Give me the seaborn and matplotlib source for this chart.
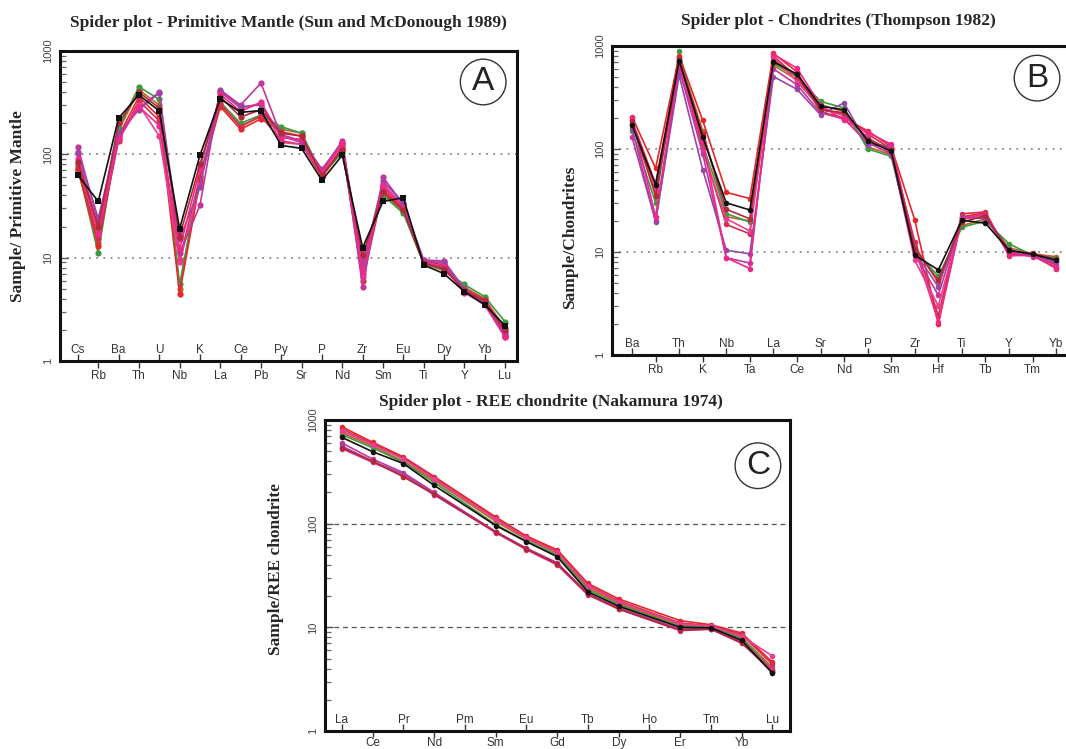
import numpy as np
import pandas as pd
import matplotlib
matplotlib.use("Agg")
import matplotlib.pyplot as plt
from matplotlib.ticker import FixedLocator, NullFormatter, LogLocator
import seaborn as sns

sns.set_style("white")
plt.rcParams["font.family"] = ["Liberation Sans", "DejaVu Sans"]

nan = np.nan

# ---------------------------------------------------------------- samples
SAMPLE_ORDER = ["orange", "green", "red", "crimson", "pink", "magenta",
                "purple", "hotpink", "darkred", "black"]
SAMPLE_COLORS = {
    "black": "#111111", "green": "#3f9a3f", "orange": "#c0622a",
    "red": "#e8262a", "crimson": "#d42d4f", "pink": "#e8408e",
    "magenta": "#c2369c", "purple": "#9a46a8", "hotpink": "#f0288a",
    "darkred": "#b02a3a",
}

# ------------------------------------------- A: primitive mantle normalised
pm_elements = ["Cs", "Rb", "Ba", "Th", "U", "Nb", "K", "La", "Ce", "Pb", "Py",
               "Sr", "P", "Nd", "Zr", "Sm", "Eu", "Ti", "Dy", "Y", "Yb", "Lu"]
pm_black   = [63, 35, 224, 375, 263, 19, 98, 345, 255, 265, 122, 114, 56, 98, 12.5, 35, 38, 8.5, 7.0, 4.7, 3.5, 2.2]
pm_green   = [75, 11, 180, 450, 340, 5.5, 62, 320, 200, 240, 185, 160, 62, 105, 9.0, 40, 27, 8.8, 7.6, 5.5, 4.2, 2.4]
pm_orange  = [70, 14, 170, 420, 300, 5.0, 58, 300, 190, 230, 175, 160, 65, 110, 8.0, 42, 28, 8.7, 7.5, 5.2, 4.0, 2.1]
pm_red     = [72, 13, 150, 360, 230, 4.5, 55, 290, 175, 220, 165, 150, 60, 115, 6.0, 45, 30, 9.0, 8.0, 5.0, 3.9, 1.9]
pm_crimson = [80, 15, 135, 330, 210, 9.5, 60, 310, 185, 235, 135, 125, 60, 120, 7.0, 48, 31, 9.2, 8.5, 5.0, 3.8, 1.8]
pm_pink    = [100, 19, 145, 300, 150, 9.0, 50, 400, 280, 310, 130, 125, 66, 125, 6.5, 52, 32, 9.3, 9.0, 4.8, 3.7, 1.7]
pm_magenta = [118, 22, 155, 280, 400, 11, 32, 420, 300, 490, 150, 130, 70, 135, 5.2, 60, 33, 9.5, 9.3, 5.0, 3.6, 1.8]
pm_purple  = [105, 24, 160, 270, 395, 15, 48, 410, 290, 300, 155, 135, 72, 130, 8.5, 55, 34, 9.4, 8.8, 4.9, 3.7, 1.75]
pm_hotpink = [90, 17, 140, 290, 190, 12, 72, 380, 260, 320, 145, 140, 68, 128, 7.5, 50, 30, 9.0, 8.2, 4.6, 3.5, 1.7]
pm_darkred = [85, 20, 200, 400, 280, 16, 80, 360, 230, 270, 160, 150, 63, 110, 10.5, 43, 29, 8.8, 7.8, 4.8, 3.8, 2.0]

# -------------------------------------------------- B: chondrite normalised
ch_elements = ["Ba", "Rb", "Th", "K", "Nb", "Ta", "La", "Ce", "Sr", "Nd",
               "P", "Sm", "Zr", "Hf", "Ti", "Tb", "Y", "Tm", "Yb"]
ch_black   = [170, 45, 720, 130, 30, 25.6, 700, 535, 260, 240, 120, 95, 9.3, 6.7, 20.4, 19.0, 10.4, 9.5, 8.3]
ch_green   = [150, 30, 890, 110, 23.6, 19.5, 680, 500, 290, 250, 100, 85, 10.5, 5.8, 17.4, 20, 12, 9.3, 8.8]
ch_orange  = [180, 38, 780, 150, 22, 20, 650, 470, 270, 230, 105, 88, 11.5, 5.0, 18, 21, 11, 9.6, 9.0]
ch_red     = [206, 65, 800, 190, 38, 33, 850, 560, 230, 200, 150, 105, 20.4, 2.0, 22, 24, 9.5, 9.2, 7.5]
ch_crimson = [190, 46, 760, 100, 18.5, 15, 800, 500, 245, 215, 140, 100, 12.5, 2.4, 23.5, 24.5, 9.2, 9.4, 6.9]
ch_pink    = [175, 40, 650, 95, 21, 16, 780, 450, 250, 210, 130, 92, 8.3, 3.0, 21, 22, 9.8, 9.1, 7.2]
ch_magenta = [130, 20, 600, 90, 8.8, 7.8, 600, 420, 225, 195, 115, 90, 9.5, 3.8, 21.5, 23, 10, 9.0, 7.8]
ch_purple  = [160, 19.6, 520, 63, 10.4, 9.6, 505, 380, 215, 280, 110, 108, 10, 4.6, 22, 21, 10.5, 9.3, 8.0]
ch_hotpink = [200, 22, 700, 120, 8.8, 6.9, 830, 610, 265, 190, 145, 111, 11, 2.1, 21, 23.5, 9.3, 9.2, 7.0]
ch_darkred = [185, 35, 740, 140, 26, 21, 720, 520, 240, 225, 125, 98, 10.8, 5.3, 19.5, 22.5, 10.2, 9.7, 8.5]

# ----------------------------------------------- C: REE chondrite normalised
ree_elements = ["La", "Ce", "Pr", "Nd", "Pm", "Sm", "Eu", "Gd", "Tb", "Dy",
                "Ho", "Er", "Tm", "Yb", "Lu"]
ree_red     = [860, 610, 440, 285, nan, 116, 76, 56, 26.5, 18.8, nan, 11.6, 10.6, 8.8, 4.6]
ree_crimson = [820, 590, 430, 275, nan, 112, 74, 54, 25.5, 18.0, nan, 11.0, 10.4, 8.5, 4.4]
ree_pink    = [780, 580, 420, 270, nan, 110, 73, 53, 25.0, 17.5, nan, 10.8, 10.3, 8.2, 5.3]
ree_orange  = [750, 560, 400, 262, nan, 105, 71, 52, 24.0, 17.0, nan, 10.5, 10.2, 8.0, 4.1]
ree_green   = [720, 540, 390, 250, nan, 98, 68, 50, 23.0, 16.5, nan, 10.2, 10.0, 7.8, 3.9]
ree_black   = [680, 494, 380, 234, nan, 96, 67, 48, 22.0, 16.0, nan, 10.0, 9.9, 7.5, 3.6]
ree_magenta = [600, 420, 310, 200, nan, 84, 58, 42, 21.0, 15.5, nan, 9.6, 9.8, 7.4, 3.8]
ree_purple  = [560, 400, 300, 195, nan, 83, 57, 41, 20.8, 15.2, nan, 9.5, 9.7, 7.2, 3.7]
ree_hotpink = [530, 390, 290, 190, nan, 82, 56, 40, 20.5, 15.0, nan, 9.3, 9.6, 7.0, 3.9]
ree_darkred = [540, 400, 283, 192, nan, 83, 57, 41, 21.0, 15.0, nan, 9.4, 9.6, 7.1, 3.7]

reference_lines = [10, 100]


def long_frame(series):
    rows = []
    for name, values in series.items():
        for pos, val in enumerate(values):
            if not np.isnan(val):
                rows.append((name, pos, val))
    return pd.DataFrame(rows, columns=["sample", "pos", "value"])


def px_axes(fig, left, top, right, bottom, W=1066, H=749):
    return fig.add_axes([left / W, (H - bottom) / H, (right - left) / W, (bottom - top) / H])


def spider(ax, elements, series, title, ylabel, letter, xlim, grid_ls,
           title_kw, ylabel_xy, letter_xy, marker_size=4.5, black_marker="o"):
    df = long_frame(series)
    markers = {k: (black_marker if k == "black" else "o") for k in SAMPLE_ORDER}
    sns.lineplot(data=df, x="pos", y="value", hue="sample", style="sample",
                 hue_order=SAMPLE_ORDER, style_order=SAMPLE_ORDER,
                 palette=SAMPLE_COLORS, markers=markers, dashes=False,
                 estimator=None, sort=False, legend=False, ax=ax,
                 linewidth=1.2, markersize=marker_size, markeredgewidth=0)
    for yv in reference_lines:
        if grid_ls == ":":
            ax.axhline(yv, color="#8a8a8a", lw=1.3, ls=(0, (1, 3)), zorder=0)
        else:
            ax.axhline(yv, color="#555555", lw=0.9, ls=(0, (4, 3)), zorder=0)

    ax.set_yscale("log")
    ax.set_ylim(1, 1000)
    ax.set_xlim(*xlim)
    ax.yaxis.set_major_locator(FixedLocator([1, 10, 100, 1000]))
    ax.set_yticklabels(["1", "10", "100", "1000"])
    ax.yaxis.set_minor_locator(LogLocator(base=10, subs=np.arange(2, 10)))
    ax.yaxis.set_minor_formatter(NullFormatter())
    ax.tick_params(axis="y", which="major", direction="in", length=6, width=1,
                   color="#555555", labelsize=8, labelcolor="#444444", pad=5,
                   left=True)
    ax.tick_params(axis="y", which="minor", direction="in", length=4, width=0.9,
                   color="#666666", left=True)
    for lab in ax.get_yticklabels():
        lab.set_rotation(90)
        lab.set_va("center")

    positions = np.arange(len(elements))
    odd = positions[1::2]
    even = positions[0::2]
    ax.set_xticks(odd, [elements[i] for i in odd])
    ax.set_xticks(even, [elements[i] for i in even], minor=True)
    ax.tick_params(axis="x", which="major", direction="out", length=5, width=1,
                   color="#333333", labelsize=8.5, labelcolor="#333333", pad=1.5,
                   bottom=True)
    ax.tick_params(axis="x", which="minor", direction="in", length=5, width=1,
                   color="#333333", labelsize=8.5, labelcolor="#333333", pad=-12.5,
                   bottom=True)
    ax.set_xlabel("")
    ax.set_ylabel(ylabel, fontsize=12.5, fontweight="bold",
                  family=["Liberation Serif", "DejaVu Serif"])
    ax.yaxis.set_label_coords(*ylabel_xy)
    ax.set_title(title, fontsize=12.5, fontweight="bold",
                 family=["Liberation Serif", "DejaVu Serif"], **title_kw)

    for side in ["left", "right", "top", "bottom"]:
        ax.spines[side].set_visible(True)
        ax.spines[side].set_color("#111111")
        ax.spines[side].set_linewidth(2.2)

    ax.text(letter_xy[0], letter_xy[1], letter, transform=ax.transAxes,
            ha="center", va="center", fontsize=24, color="#222222",
            bbox=dict(boxstyle="circle,pad=0.22", fc="white", ec="#333333", lw=1))


fig = plt.figure(figsize=(10.66, 7.49), dpi=100)
fig.patch.set_facecolor("white")

axA = px_axes(fig, 60, 51, 517, 361)
spider(axA, pm_elements,
       {"black": pm_black, "green": pm_green, "orange": pm_orange, "red": pm_red,
        "crimson": pm_crimson, "pink": pm_pink, "magenta": pm_magenta,
        "purple": pm_purple, "hotpink": pm_hotpink, "darkred": pm_darkred},
       "Spider plot - Primitive Mantle (Sun and McDonough 1989)",
       "Sample/ Primitive Mantle", "A", (-0.88, 21.59), ":",
       dict(pad=17), (-0.074, 0.5), (0.926, 0.90), black_marker="s")

axB = px_axes(fig, 612, 46, 1075, 355)
spider(axB, ch_elements,
       {"black": ch_black, "green": ch_green, "orange": ch_orange, "red": ch_red,
        "crimson": ch_crimson, "pink": ch_pink, "magenta": ch_magenta,
        "purple": ch_purple, "hotpink": ch_hotpink, "darkred": ch_darkred},
       "Spider plot - Chondrites (Thompson 1982)",
       "Sample/Chondrites", "B", (-0.85, 18.8), ":",
       dict(pad=15, x=0.49), (-0.073, 0.38), (0.918, 0.896), marker_size=4)

axC = px_axes(fig, 325, 420, 790, 731)
spider(axC, ree_elements,
       {"black": ree_black, "green": ree_green, "orange": ree_orange, "red": ree_red,
        "crimson": ree_crimson, "pink": ree_pink, "magenta": ree_magenta,
        "purple": ree_purple, "hotpink": ree_hotpink, "darkred": ree_darkred},
       "Spider plot - REE chondrite (Nakamura 1974)",
       "Sample/REE chondrite", "C", (-0.55, 14.57), "--",
       dict(pad=10, x=0.485), (-0.088, 0.52), (0.931, 0.853), marker_size=4)
axC.tick_params(axis="x", which="major", length=4, pad=0.5)

fig.savefig("out.png", dpi=100, facecolor="white")
